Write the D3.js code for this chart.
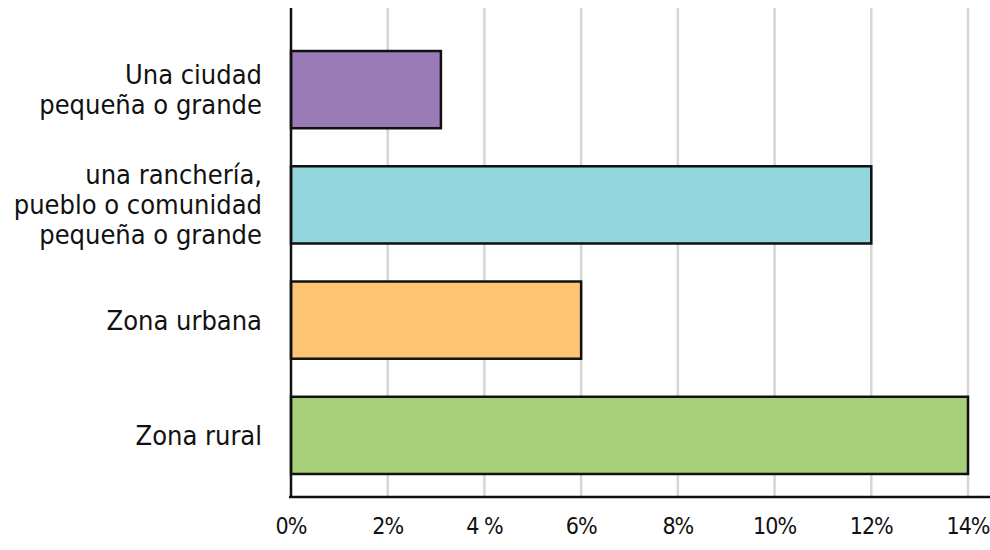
<!DOCTYPE html>
<html><head><meta charset="utf-8">
<script src="https://cdn.jsdelivr.net/npm/d3@7"></script>
<style>body{margin:0;background:#fff}svg{display:block}text{font-family:"DejaVu Sans Condensed",sans-serif;fill:#111}</style>
</head><body><svg width="990" height="550"></svg>
<script>
const categories = [["Una ciudad","pequeña o grande"],["una ranchería,","pueblo o comunidad","pequeña o grande"],["Zona urbana"],["Zona rural"]];
const values = [3.1, 12, 6, 14];
const colors = ["#9a7bb7","#93d6de","#fec574","#a6d17a"];
const tickValues = [0,2,4,6,8,10,12,14];
const tickLabels = ["0%","2%","4 %","6%","8%","10%","12%","14%"];

const svg = d3.select("svg");
const x = d3.scaleLinear().domain([0,14]).range([291,968]);
const y = d3.scaleBand().domain(d3.range(categories.length)).range([32,493]).paddingInner(0.33).paddingOuter(0.165);
const yTop = 8, yBottom = 497;

svg.append("g").selectAll("line").data(tickValues.slice(1)).join("line")
  .attr("x1",d=>x(d)).attr("x2",d=>x(d)).attr("y1",yTop).attr("y2",yBottom)
  .attr("stroke","#d6d6d6").attr("stroke-width",2.5);

svg.append("g").selectAll("rect").data(values).join("rect")
  .attr("x",x(0)).attr("y",(d,i)=>y(i)).attr("width",d=>x(d)-x(0)).attr("height",y.bandwidth())
  .attr("fill",(d,i)=>colors[i]).attr("stroke","#111").attr("stroke-width",2.5);

svg.append("line").attr("x1",x(0)).attr("x2",x(0)).attr("y1",yTop).attr("y2",yBottom).attr("stroke","#111").attr("stroke-width",2.5);
svg.append("line").attr("x1",x(0)-2).attr("x2",990).attr("y1",yBottom).attr("y2",yBottom).attr("stroke","#111").attr("stroke-width",2.5);

svg.append("g").selectAll("text").data(tickValues).join("text")
  .attr("x",d=>x(d)).attr("y",534).attr("text-anchor","middle").attr("font-size",23)
  .attr("letter-spacing",-1)
  .text((d,i)=>tickLabels[i]);

const lh = 30;
const lab = svg.append("g").selectAll("g").data(categories).join("g");
lab.each(function(lines,i){
  const cy = y(i)+y.bandwidth()/2;
  const n = lines.length;
  d3.select(this).selectAll("text").data(lines).join("text")
    .attr("x",262).attr("y",(l,j)=>cy+(j-(n-1)/2)*lh).attr("dy","0.35em")
    .attr("text-anchor","end").attr("font-size",27).text(l=>l);
});
</script></body></html>
